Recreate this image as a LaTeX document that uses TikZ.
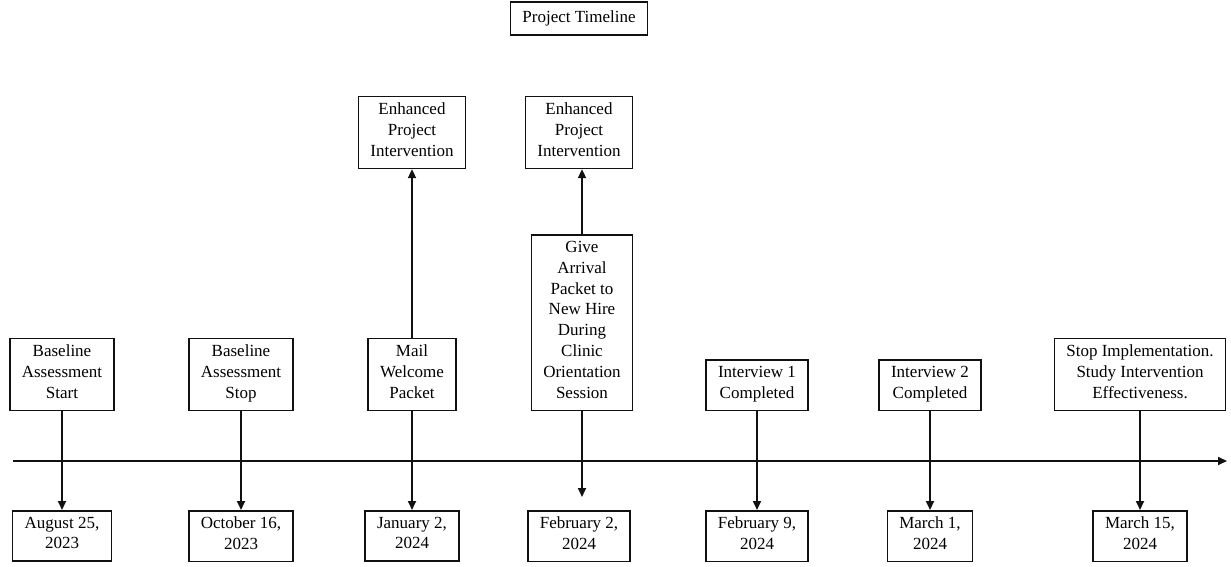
\documentclass[tikz,border=0pt]{standalone}
\usepackage{fontspec}
\setmainfont{Liberation Serif}
\usetikzlibrary{arrows.meta}
\definecolor{ink}{HTML}{111111}
\tikzset{
  box/.style={draw=ink, line width=1.5pt, align=center, inner xsep=12pt, inner ysep=6pt,
    font=\fontsize{17}{20.8}\selectfont, execute at begin node=\strut, execute at end node=\strut},
  link/.style={draw=ink, line width=1.7pt, -{Triangle[length=9pt,width=8pt]}},
  axis/.style={draw=ink, line width=1.7pt, -{Triangle[length=9pt,width=8pt]}},
}

\begin{document}
\begin{tikzpicture}[x=1pt,y=1pt]
  \useasboundingbox (0,0) rectangle (1231,566);
  \node[box] (title) at (579,547.5) {Project Timeline};
  % timeline
  \coordinate (tl0) at (13,105);
  \coordinate (tl1) at (1227,105);
  \draw[axis] (tl0) -- (tl1);
  % events above the line
  \node[box, anchor=south] (ev1) at (62,155) {Baseline\\Assessment\\Start};
  \node[box, anchor=south] (ev2) at (241,155) {Baseline\\Assessment\\Stop};
  \node[box, anchor=south] (ev3) at (412,155) {Mail\\Welcome\\Packet};
  \node[box, anchor=south] (ev4) at (582,155) {Give\\Arrival\\Packet to\\New Hire\\During\\Clinic\\Orientation\\Session};
  \node[box, anchor=south] (ev5) at (757,155) {Interview 1\\Completed};
  \node[box, anchor=south] (ev6) at (930,155) {Interview 2\\Completed};
  \node[box, anchor=south] (ev7) at (1140,155) {Stop Implementation.\\Study Intervention\\Effectiveness.};
  \node[box, anchor=north] (enh1) at (412,470) {Enhanced\\Project\\Intervention};
  \node[box, anchor=north] (enh2) at (579,470) {Enhanced\\Project\\Intervention};
  % dates below the line
  \node[box, anchor=north] (d1) at (62,56) {August 25,\\2023};
  \node[box, anchor=north] (d2) at (241,56) {October 16,\\2023};
  \node[box, anchor=north] (d3) at (412,56) {January 2,\\2024};
  \node[box, anchor=north] (d4) at (579,56) {February 2,\\2024};
  \node[box, anchor=north] (d5) at (757,56) {February 9,\\2024};
  \node[box, anchor=north] (d6) at (930,56) {March 1,\\2024};
  \node[box, anchor=north] (d7) at (1140,56) {March 15,\\2024};
  % connectors
  \draw[link] (ev1) -- (d1);
  \draw[link] (ev2) -- (d2);
  \draw[link] (ev3) -- (d3);
  \draw[link] (ev3) -- (enh1);
  \draw[link] (ev4.north) -- (ev4.north |- enh2.south);
  \coordinate (gap) at (582,69);
  \draw[link] (ev4) -- (gap);
  \draw[link] (ev5) -- (d5);
  \draw[link] (ev6) -- (d6);
  \draw[link] (ev7) -- (d7);
\end{tikzpicture}
\end{document}
